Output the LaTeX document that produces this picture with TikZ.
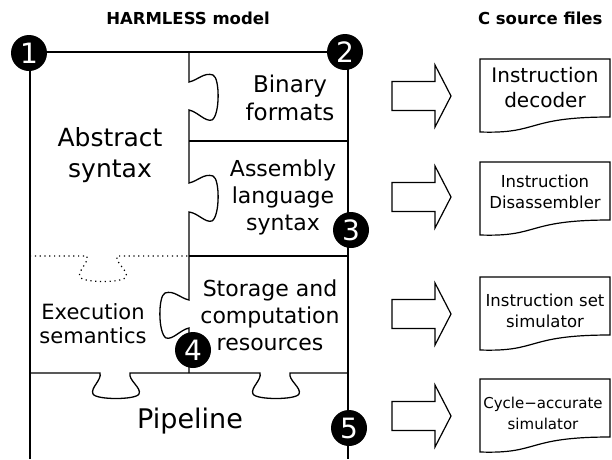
\documentclass[tikz,border=0pt]{standalone}
\usepackage{fontspec}
\setmainfont{DejaVu Sans}
\usetikzlibrary{positioning}

\begin{document}
\begin{tikzpicture}
[x=1pt,y=-1pt,line width=1.2pt,
 every node/.style={inner sep=0pt,outer sep=0pt,align=center},
 title/.style={font=\fontsize{16.5}{19}\bfseries\selectfont},
 piece/.style={font=\fontsize{23}{28}\selectfont},
 mid/.style={font=\fontsize{22}{27}\selectfont},
 small/.style={font=\fontsize{16.5}{21}\selectfont},
 num/.style={circle,fill=black,text=white,minimum size=36pt,font=\fontsize{28}{28}\selectfont},
 border/.style={line width=1.3pt},
 dots/.style={line width=1.2pt,dash pattern=on 1.2pt off 3.6pt}]
\useasboundingbox (0,0) rectangle (612,459);
\node[title] (hmodel) at (188,18) {HARMLESS model};
\node[title,anchor=west] (csrc) at (478,18) {C source files};
% outline of the puzzle
\draw[border] (30,459) -- (30,52) -- (348,52) -- (348,459);
\draw[border] (189,52) -- (189,82)
  .. controls (198,80) and (204,72) .. (213,75) .. controls (220,78) and (220,115) .. (212,120)
  .. controls (205,122) and (198,112) .. (189,110) -- (189,183)
  .. controls (198,181) and (204,173) .. (213,176) .. controls (220,179) and (220,216) .. (212,221)
  .. controls (205,223) and (198,213) .. (189,212) -- (189,300)
  .. controls (180,298) and (174,290) .. (165,293) .. controls (158,296) and (158,333) .. (166,338)
  .. controls (173,340) and (180,330) .. (189,328) -- (189,373);
\draw[border] (189,141) -- (348,141);
\draw[border] (189,256) -- (348,256);
\draw[dots] (30,256) -- (87,256)
  .. controls (89,263) and (77,271) .. (80,277) .. controls (83,283) and (123,283) .. (126,277)
  .. controls (129,271) and (115,263) .. (117,256) -- (189,256);
\draw[border] (30,373) -- (100,373)
  .. controls (102,380) and (90,388) .. (93,394) .. controls (96,400) and (136,400) .. (139,394)
  .. controls (142,388) and (128,380) .. (130,373) -- (260,373)
  .. controls (262,380) and (250,388) .. (253,394) .. controls (256,400) and (296,400) .. (299,394)
  .. controls (302,388) and (288,380) .. (290,373) -- (348,373);
\node[piece] (binary)   at (290,98)  {Binary\\formats};
\node[piece,font=\fontsize{25}{31}\selectfont] (abstract) at (110,155) {Abstract\\syntax};
\node[mid]   (assembly) at (283,197) {Assembly\\language\\syntax};
\node[mid]   (storage)  at (270,315) {Storage and\\computation\\resources};
\node[font=\fontsize{21}{24}\selectfont] (exec) at (93,324) {Execution\\semantics};
\node[font=\fontsize{27}{30}\selectfont] (pipe) at (190,421) {Pipeline};
\node[num] (n1) at (29,53)   {1};
\node[num] (n2) at (345,52)  {2};
\node[num] (n3) at (351,230) {3};
\node[num] (n4) at (193,350) {4};
\node[num] (n5) at (349,428) {5};
% generation arrows and source files
\foreach \y in {96,197,314,416}
  \draw (392,{\y-14.5}) -- (435,{\y-14.5}) -- (435,{\y-31}) -- (451,\y)
        -- (435,{\y+31}) -- (435,{\y+14.5}) -- (392,{\y+14.5}) -- cycle;
\foreach \t in {59,162,277,379}
  \draw (480,\t) -- (610,\t) -- (610,{\t+58})
        .. controls (525,{\t+58}) and (540,{\t+75}) .. (480,{\t+73}) -- cycle;
\node[font=\fontsize{20}{25}\selectfont] (decoder) at (545,88) {Instruction\\decoder};
\node[small] (disasm) at (545,192) {Instruction\\Disassembler};
\node[small] (iss)    at (545,311) {Instruction set\\simulator};
\node[small,font=\fontsize{15}{21}\selectfont] (cas) at (543,413) {Cycle−accurate\\simulator};
\end{tikzpicture}
\end{document}
